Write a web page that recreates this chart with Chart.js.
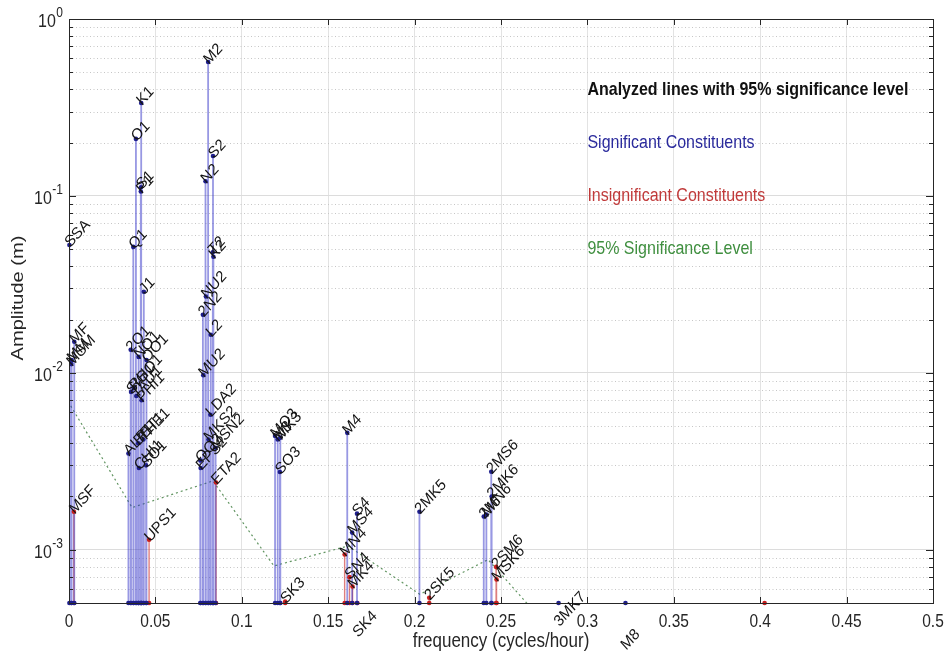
<!DOCTYPE html>
<html><head><meta charset="utf-8">
<script src="https://cdn.jsdelivr.net/npm/chart.js@4.4.0/dist/chart.umd.min.js"></script>
<style>html,body{margin:0;padding:0;background:#fff;}canvas{display:block;}</style>
</head><body>
<canvas id="c" width="946" height="657"></canvas>
<script>
// ---- data ----
const names = ['SSA','MSM','MM','MSF','MF',
  'ALP1','2Q1','SIG1','Q1','RHO1','O1','TAU1','BET1','NO1','CHI1','P1','S1','K1','PHI1','THE1','J1','SO1','OO1','UPS1',
  'OQ2','EPS2','2N2','MU2','N2','NU2','M2','MKS2','LDA2','L2','T2','S2','K2','MSN2','ETA2',
  'MO3','M3','SO3','MK3','SK3',
  'MN4','M4','SN4','MS4','MK4','S4','SK4',
  '2MK5','2SK5',
  '2MN6','M6','2MS6','2MK6','2SM6','MSK6',
  '3MK7','M8','M10'];
const freqs = [0.000228,0.001310,0.001512,0.002822,0.003050,
  0.034397,0.035706,0.035909,0.037219,0.037421,0.038731,0.038959,0.040040,0.040269,0.040471,0.041553,0.041667,0.041781,0.042004,0.043090,0.043293,0.044603,0.044831,0.046343,
  0.075975,0.076177,0.077487,0.077689,0.078999,0.079202,0.080511,0.080739,0.081821,0.082024,0.083219,0.083333,0.083561,0.084846,0.085074,
  0.119242,0.120767,0.122064,0.122292,0.125114,
  0.159511,0.161023,0.162333,0.163845,0.164073,0.166667,0.166895,
  0.202804,0.208447,
  0.240022,0.241534,0.244356,0.244584,0.247178,0.247406,
  0.283315,0.322046,0.402557];
const amps = [0.0528,0.0112,0.0118,0.00164,0.0150,
  0.0035,0.0135,0.0078,0.0515,0.0082,0.210,0.0074,0.0040,0.0123,0.0029,0.106,0.112,0.335,0.0070,0.0042,0.0287,0.0030,0.0118,0.00114,
  0.0032,0.0029,0.0213,0.0097,0.121,0.027,0.571,0.0042,0.0058,0.0164,0.048,0.168,0.0453,0.00377,0.0024,
  0.0044,0.0042,0.00275,0.0043,0.00051,
  0.00094,0.00458,0.00070,0.00125,0.00062,0.00160,0.00033,
  0.00164,0.000535,
  0.00154,0.00158,0.00276,0.0020,0.00080,0.00068,
  0.00038,0.00028,0.0001];
const significant = [1,1,1,0,1,
  1,1,1,1,1,1,1,1,1,1,1,1,1,1,1,1,1,1,0,
  1,1,1,1,1,1,1,1,1,1,1,1,1,1,0,
  1,1,1,1,0,
  0,1,0,1,0,1,0,
  1,0,
  1,1,1,1,0,0,
  1,1,0];
// 95% significance level (band noise levels)
const levelFreqs = [0.001,0.0365,0.0833,0.1186,0.1615,0.2030,0.2425,0.2825];
const levelAmps  = [0.0065,0.00173,0.00245,0.00081,0.00105,0.00056,0.00088,0.00032];
const xTicks = [0,0.05,0.1,0.15,0.2,0.25,0.3,0.35,0.4,0.45,0.5];
const yTicks = [0.001,0.01,0.1,1];
const yMin = 5e-4, yMax = 1;
const legendLines = ['Analyzed lines with 95% significance level','Significant Constituents','Insignificant Constituents','95% Significance Level'];
const legendY = [0.4,0.2,0.1,0.05];
const legendX = 0.3;
const xTitle = 'frequency (cycles/hour)';
const yTitle = 'Amplitude (m)';

// ---- build datasets ----
function stems(flag){
  const d=[];
  names.forEach((n,i)=>{ if(significant[i]===flag){
    d.push({x:freqs[i],y:yMin},{x:freqs[i],y:amps[i]},{x:freqs[i],y:null});
  }});
  return d;
}
function tops(flag){ return names.map((n,i)=>significant[i]===flag?{x:freqs[i],y:amps[i]}:null).filter(Boolean); }
function bases(flag){ return names.map((n,i)=>significant[i]===flag?{x:freqs[i],y:yMin}:null).filter(Boolean); }

const BLUE='#1e1e8c', RED='#c81e1e';
const FONT='"Liberation Sans", Arial, Helvetica, sans-serif';
const STRETCH=1.18; // the reference text is slightly taller than wide

function txt(ctx,t,x,y,o){
  ctx.save();
  ctx.font=o.font; ctx.fillStyle=o.color||'#262626';
  ctx.textAlign=o.align||'left'; ctx.textBaseline=o.baseline||'middle';
  ctx.translate(x,y); ctx.scale(1,o.s||STRETCH); if(o.rot) ctx.rotate(o.rot);
  ctx.fillText(t,0,0);
  ctx.restore();
}

const decor = {
  id:'decor',
  beforeDatasetsDraw(chart){
    const {ctx, chartArea:a, scales:{y}} = chart;
    ctx.save();
    ctx.strokeStyle='#c6c6c6'; ctx.lineWidth=1; ctx.setLineDash([1,2.5]);
    for(let e=-4;e<0;e++){ for(let m=2;m<=9;m++){
      const v=m*Math.pow(10,e); if(v<=yMin||v>=yMax) continue;
      const py=Math.round(y.getPixelForValue(v))+0.5;
      ctx.beginPath(); ctx.moveTo(a.left,py); ctx.lineTo(a.right,py); ctx.stroke();
    }}
    ctx.restore();
  },
  afterDatasetsDraw(chart){
    const {ctx, chartArea:a, scales:{x,y}} = chart;
    ctx.save();
    // box
    ctx.strokeStyle='#262626'; ctx.lineWidth=1; ctx.setLineDash([]);
    ctx.strokeRect(a.left+0.5,a.top+0.5,a.right-a.left,a.bottom-a.top);
    // inward ticks
    ctx.beginPath();
    xTicks.forEach(v=>{const px=Math.round(x.getPixelForValue(v))+0.5;
      ctx.moveTo(px,a.bottom); ctx.lineTo(px,a.bottom-6);
      ctx.moveTo(px,a.top); ctx.lineTo(px,a.top+6);});
    for(let e=-4;e<=0;e++){ for(let m=1;m<=9;m++){
      const v=m*Math.pow(10,e); if(v<yMin-1e-12||v>yMax+1e-12) continue;
      const len = m===1?7:4;
      const py=Math.round(y.getPixelForValue(v))+0.5;
      ctx.moveTo(a.left,py); ctx.lineTo(a.left+len,py);
      ctx.moveTo(a.right,py); ctx.lineTo(a.right-len,py);
      if(e===0) break;
    }}
    ctx.stroke();
    ctx.restore();
    // x tick labels
    xTicks.forEach(v=>{
      txt(ctx,String(+v.toFixed(2)),x.getPixelForValue(v),a.bottom+19,{font:'15.5px '+FONT,align:'center'});
    });
    // y tick labels 10^n
    yTicks.forEach(v=>{
      const py=y.getPixelForValue(v);
      const ex=String(Math.round(Math.log10(v)));
      ctx.font='12px '+FONT;
      const we=ctx.measureText(ex).width;
      const right=63;
      txt(ctx,ex,right-we,py-6,{font:'12px '+FONT});
      txt(ctx,'10',right-we-0.5,py+3,{font:'16px '+FONT,align:'right'});
    });
    // axis titles
    txt(ctx,xTitle,(a.left+a.right)/2,641,{font:'17px '+FONT,align:'center'});
    txt(ctx,yTitle,18,298,{font:'17px '+FONT,align:'center',rot:-Math.PI/2});
    // constituent labels, rotated 45 degrees
    names.forEach((n,i)=>{
      const px=x.getPixelForValue(freqs[i]), py=y.getPixelForValue(amps[i]);
      txt(ctx,n,px-2,py,{font:'14.5px '+FONT,color:'#141414',rot:-Math.PI/4,s:1.1});
    });
    // annotation legend
    const cols=['#111111','#2a2a9c','#c03a3a','#3f8f3f'];
    legendLines.forEach((t,i)=>{
      txt(ctx,t,x.getPixelForValue(legendX),y.getPixelForValue(legendY[i]),{font:(i===0?'bold ':'')+'16px '+FONT,color:cols[i]});
    });
  }
};

new Chart(document.getElementById('c'),{
  type:'scatter',
  data:{datasets:[
    {label:'top sig', data:tops(1), pointRadius:2.3, pointBackgroundColor:BLUE, pointBorderWidth:0, showLine:false, clip:5},
    {label:'top insig', data:tops(0), pointRadius:2.3, pointBackgroundColor:RED, pointBorderWidth:0, showLine:false, clip:5},
    {label:'base sig', data:bases(1), pointRadius:2.3, pointBackgroundColor:BLUE, pointBorderWidth:0, showLine:false, clip:5},
    {label:'base insig', data:bases(0), pointRadius:2.3, pointBackgroundColor:RED, pointBorderWidth:0, showLine:false, clip:5},
    {label:'stems sig', data:stems(1), showLine:true, spanGaps:false, borderColor:'rgba(50,50,200,0.5)', borderWidth:1.8, pointRadius:0},
    {label:'stems insig', data:stems(0), showLine:true, spanGaps:false, borderColor:'rgba(200,40,40,0.6)', borderWidth:1.4, pointRadius:0},
    {label:'95% level', data:levelFreqs.map((f,i)=>({x:f,y:levelAmps[i]})), showLine:true, borderColor:'rgba(70,130,70,0.85)', borderWidth:1.2, borderDash:[2,3], pointRadius:0}
  ]},
  options:{
    responsive:false, animation:false, devicePixelRatio:1,
    layout:{padding:{top:19,right:13,left:0,bottom:0}},
    plugins:{legend:{display:false}, tooltip:{enabled:false}},
    scales:{
      x:{type:'linear', min:0, max:0.5,
        afterBuildTicks:s=>{s.ticks=xTicks.map(v=>({value:v}));},
        afterFit:s=>{s.height=54;},
        ticks:{display:false},
        grid:{color:'#e3e3e3', drawTicks:false},
        border:{display:false},
        title:{display:false}
      },
      y:{type:'logarithmic', min:yMin, max:yMax,
        afterBuildTicks:s=>{s.ticks=yTicks.map(v=>({value:v}));},
        afterFit:s=>{s.width=69;},
        ticks:{display:false},
        grid:{color:'#dcdcdc', drawTicks:false},
        border:{display:false},
        title:{display:false}
      }
    }
  },
  plugins:[decor]
});
</script>
</body></html>
